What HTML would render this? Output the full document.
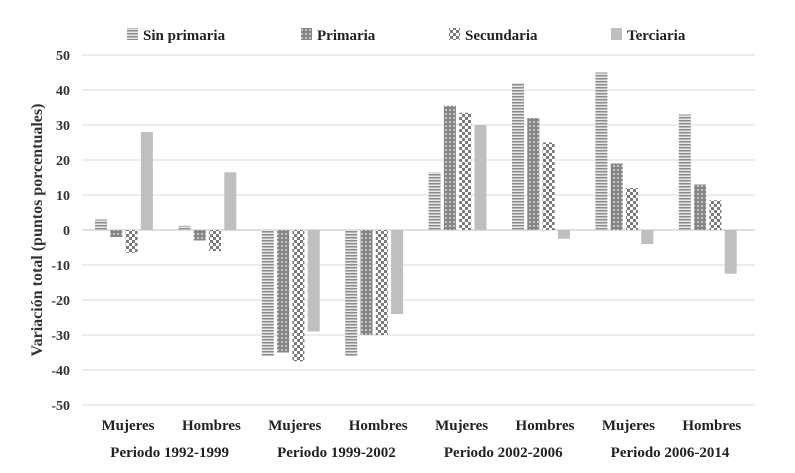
<!DOCTYPE html>
<html><head><meta charset="utf-8"><style>
body{margin:0;background:#fff}
svg{display:block;font-family:"Liberation Serif",serif}
</style></head><body>
<svg id="chart" width="795" height="473" viewBox="0 0 795 473">
<defs>
<pattern id="pStripe" width="6" height="3" patternUnits="userSpaceOnUse"><rect width="6" height="3" fill="#e6e6e6"/><rect width="6" height="1.5" fill="#8c8c8c"/></pattern>
<pattern id="pDots" width="4" height="4" patternUnits="userSpaceOnUse"><rect width="4" height="4" fill="#858585"/><circle cx="2" cy="2" r="1" fill="#d8d8d8"/></pattern>
<pattern id="pCheck" width="6" height="6" patternUnits="userSpaceOnUse"><rect width="6" height="6" fill="#fff"/><rect width="3" height="3" fill="#7a7a7a"/><rect x="3" y="3" width="3" height="3" fill="#7a7a7a"/></pattern>
</defs>
<g id="grid"></g>
<g id="bars"></g>
<g id="labels"></g>
<g id="legend"></g>
<text transform="translate(42,230) rotate(-90)" text-anchor="middle" font-size="16" font-weight="bold" fill="#333">Variación total (puntos porcentuales)</text>
</svg>
<script>
const series=["Sin primaria","Primaria","Secundaria","Terciaria"];
const categories=["Mujeres","Hombres","Mujeres","Hombres","Mujeres","Hombres","Mujeres","Hombres"];
const periods=["Periodo 1992-1999","Periodo 1999-2002","Periodo 2002-2006","Periodo 2006-2014"];
const sinPrimaria=[3,1.2,-36,-36,16.5,42,45,33];
const primaria=[-2,-3,-35,-30,35.5,32,19,13];
const secundaria=[-6.5,-6,-37.5,-30,33.5,25,12,8.5];
const terciaria=[28,16.5,-29,-24,30,-2.5,-4,-12.5];
const yTicks=[50,40,30,20,10,0,-10,-20,-30,-40,-50];
const values=[sinPrimaria,primaria,secundaria,terciaria];
const fills=["url(#pStripe)","url(#pDots)","url(#pCheck)","#bfbfbf"];
const NS="http://www.w3.org/2000/svg";
const y=v=>230-v*3.5;
const x=(c,s)=>95+c*83.4+s*15.3;
const mk=(t,a,p)=>{const e=document.createElementNS(NS,t);for(const k in a)e.setAttribute(k,a[k]);p.appendChild(e);return e;};
const grid=document.getElementById('grid'),bars=document.getElementById('bars'),lab=document.getElementById('labels'),leg=document.getElementById('legend');
yTicks.forEach(t=>{
 const l=mk('line',{x1:82,x2:755,y1:y(t),y2:y(t),stroke:t===0?'#bfbfbf':'#d9d9d9','stroke-width':1},grid);
 
 
 const tx=mk('text',{x:70,y:y(t)+5,'text-anchor':'end','font-size':14,'font-weight':'bold',fill:'#333'},lab);
 tx.textContent=t;
 
 
});
values.forEach((arr,s)=>arr.forEach((v,c)=>{
 const r=mk('rect',{x:x(c,s),width:12,y:Math.min(y(v),y(0)),height:Math.abs(y(v)-y(0)),fill:fills[s]},bars);
 
 
}));
categories.forEach((c,i)=>{
 const t=mk('text',{x:x(i,0)+29+4,y:430,'text-anchor':'middle','font-size':15,'font-weight':'bold',fill:'#222'},lab);
 t.textContent=c;
 
 
});
periods.forEach((p,i)=>{
 const t=mk('text',{x:(x(2*i,0)+x(2*i+1,3)+12)/2+4,y:457,'text-anchor':'middle','font-size':15,'font-weight':'bold',fill:'#222'},lab);
 t.textContent=p;
 
 
});
const lx=[127,301,449,611];
series.forEach((s,i)=>{
 const r=mk('rect',{x:lx[i],y:28,width:11,height:12,fill:fills[i]},leg);
 
 
 const t=mk('text',{x:lx[i]+16,y:40,'font-size':15,'font-weight':'bold',fill:'#222'},leg);
 t.textContent=s;
 
 
});
</script>
</body></html>
